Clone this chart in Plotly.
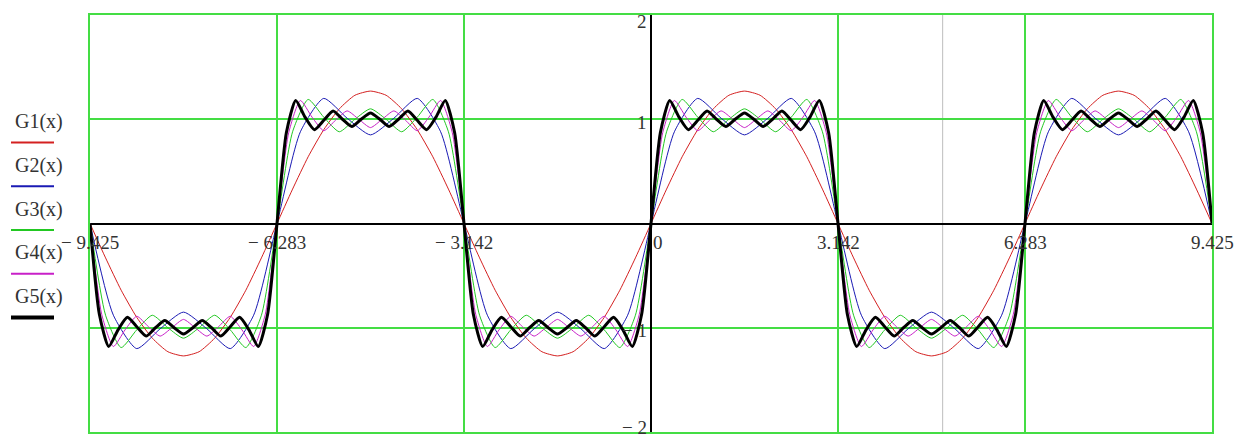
"""Partial Fourier sums of a square wave, Mathcad-style plot"""
import numpy as np
import plotly.graph_objects as go

PI = np.pi

# values over one half period [0, pi]
# (the curves repeat with alternating sign every pi)
HALF_G1 = [0, 0.33, 0.64, 0.90, 1.10, 1.23, 1.27, 1.23, 1.10, 0.90, 0.64, 0.33, 0]
HALF_G2 = [0, 0.88, 1.20, 1.01, 0.85, 1.01, 1.20, 0.88, 0]
HALF_G3 = [0, 0.88, 1.19, 1.02, 0.88, 1.00, 1.10, 1.00, 0.88, 1.02, 1.19, 0.88, 0]
HALF_G4 = [0, 0.87, 1.18, 1.02, 0.89, 0.99, 1.08, 1.00, 0.92,
           1.00, 1.08, 0.99, 0.89, 1.02, 1.18, 0.87, 0]
HALF_G5 = [0, 0.87, 1.18, 1.02, 0.90, 0.99, 1.08, 1.00, 0.93, 1.00, 1.06,
           1.00, 0.93, 1.00, 1.08, 0.99, 0.90, 1.02, 1.18, 0.87, 0]

SERIES_NAMES = ["G1(x)", "G2(x)", "G3(x)", "G4(x)", "G5(x)"]
SERIES_HALVES = [HALF_G1, HALF_G2, HALF_G3, HALF_G4, HALF_G5]
SERIES_COLORS = ["#d42020", "#1a1ab4", "#22c822", "#c820c8", "#000000"]
SERIES_WIDTHS = [1, 1, 1, 1, 3]

X_TICKS = [-3 * PI, -2 * PI, -PI, 0, PI, 2 * PI, 3 * PI]
X_TICK_TEXT = ["\u2212 9.425", "\u2212 6.283", "\u2212 3.142", "0", "3.142", "6.283", "9.425"]
Y_TICKS = [2, 1, -1, -2]
Y_TICK_TEXT = ["2", "1", "\u2212 1", "\u2212 2"]
Y_TICK_SHIFT = [-6, -3, -3, 5]

CURSOR_X = 4.9

GRID_GREEN = "#44dd44"
FONT = "Liberation Serif"
TEXT_GREY = "#333333"

# page body adds an 8px margin, so the figure is sized to the visible area
W, H = 1234, 431
ML, MR, MT, MB = 82, 30, 5, 7
PW, PH = W - ML - MR, H - MT - MB


def tile(half, n_from=-3, n_to=3):
    """repeat a half period over [n_from*pi, n_to*pi] with alternating sign"""
    half = np.asarray(half, dtype=float)
    steps = np.linspace(0, PI, len(half))
    xs, ys = [], []
    for k in range(n_from, n_to):
        sign = -1 if k % 2 else 1
        start = 0 if k == n_from else 1
        xs.extend(k * PI + steps[start:])
        ys.extend(sign * half[start:])
    return xs, ys


def px(x):
    return (x - ML) / PW


def py(y):
    return (H - MB - y) / PH


fig = go.Figure()

for name, half, color, width in zip(SERIES_NAMES, SERIES_HALVES, SERIES_COLORS, SERIES_WIDTHS):
    xs, ys = tile(half)
    fig.add_trace(
        go.Scatter(
            x=xs,
            y=ys,
            name=name,
            mode="lines",
            line=dict(color=color, width=width, shape="spline", smoothing=0.6),
            hoverinfo="skip",
        )
    )

# cursor line
fig.add_shape(type="line", xref="x", yref="paper", x0=CURSOR_X, x1=CURSOR_X, y0=0, y1=1,
              line=dict(color="#bdbdbd", width=1), layer="below")

# tick labels next to the axes
for xv, txt in zip(X_TICKS, X_TICK_TEXT):
    fig.add_annotation(x=xv, y=0, xref="x", yref="y", text=txt, showarrow=False,
                       xanchor="left" if xv == 0 else "center",
                       xshift=0, yshift=-19,
                       font=dict(family=FONT, size=19, color=TEXT_GREY))
for yv, txt, shift in zip(Y_TICKS, Y_TICK_TEXT, Y_TICK_SHIFT):
    fig.add_annotation(x=0, y=yv, xref="x", yref="y", text=txt, showarrow=False,
                       xanchor="right", xshift=-2, yshift=shift,
                       font=dict(family=FONT, size=19, color=TEXT_GREY))

# Mathcad-style legend: label with a line sample under it
for i, (name, color, width) in enumerate(zip(SERIES_NAMES, SERIES_COLORS, SERIES_WIDTHS)):
    y_text = 112 + 44 * i
    fig.add_annotation(x=px(5), y=py(y_text), xref="paper", yref="paper", text=name,
                       showarrow=False, xanchor="left", yanchor="middle",
                       font=dict(family=FONT, size=20, color=TEXT_GREY))
    y_line = y_text + 21
    fig.add_shape(type="line", xref="paper", yref="paper",
                  x0=px(3), x1=px(46), y0=py(y_line), y1=py(y_line),
                  line=dict(color=color, width=width + 1 if width > 1 else 2))

axis_style = dict(
    showticklabels=False,
    ticks="",
    showgrid=True,
    gridcolor=GRID_GREEN,
    gridwidth=2,
    zeroline=True,
    zerolinecolor="black",
    zerolinewidth=2,
    showline=True,
    linecolor=GRID_GREEN,
    linewidth=2,
    mirror=True,
    layer="below traces",
)

fig.update_layout(
    width=W,
    height=H,
    margin=dict(l=ML, r=MR, t=MT, b=MB),
    paper_bgcolor="white",
    plot_bgcolor="white",
    showlegend=False,
    xaxis=dict(range=[-3 * PI, 3 * PI], tickvals=X_TICKS, **axis_style),
    yaxis=dict(range=[-2, 2], tickvals=[-2, -1, 0, 1, 2], **axis_style),
)

fig.write_html("out.html")
